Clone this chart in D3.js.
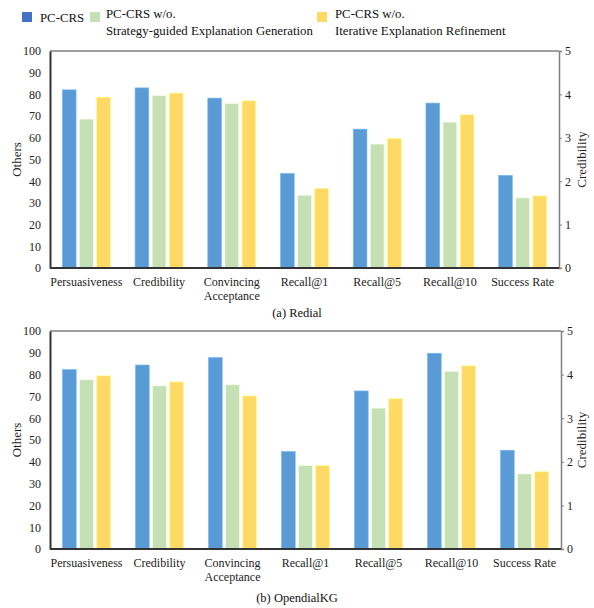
<!DOCTYPE html>
<html><head><meta charset="utf-8">
<script src="https://cdn.jsdelivr.net/npm/d3@7"></script>
<style>body{margin:0;background:#fff}svg{display:block;font-family:"Liberation Serif","Times New Roman",serif}</style>
</head><body><svg id="c" width="594" height="608"></svg>
<script>
const categories = ["Persuasiveness","Credibility","Convincing\nAcceptance","Recall@1","Recall@5","Recall@10","Success Rate"];
const seriesNames = ["PC-CRS","PC-CRS w/o.\nStrategy-guided Explanation Generation","PC-CRS w/o.\nIterative Explanation Refinement"];
// Credibility values are on the right axis (0-5); others on left axis (0-100)
const redialFull = [82.1, 4.15, 78.3, 43.6, 64.0, 76.0, 42.7];
const redialNoStrategy = [68.6, 3.97, 75.7, 33.5, 57.1, 67.2, 32.3];
const redialNoRefine = [78.7, 4.03, 77.0, 36.6, 59.7, 70.6, 33.2];
const okgFull = [82.3, 4.22, 87.8, 44.7, 72.5, 89.8, 45.3];
const okgNoStrategy = [77.6, 3.74, 75.3, 38.2, 64.6, 81.4, 34.4];
const okgNoRefine = [79.4, 3.83, 70.2, 38.2, 68.9, 84.0, 35.4];
const leftTicks = [0,10,20,30,40,50,60,70,80,90,100];
const rightTicks = [0,1,2,3,4,5];
const rightAxisCategory = "Credibility";

const colors = ["#5B9BD5","#C5E0B4","#FFD966"];
const legendColors = ["#4472C4","#C5E0B4","#FFD966"];
const svg = d3.select("#c");
const FONT = "Liberation Serif, Times New Roman, serif";

// legend
const legendItems = [{x:22,tx:40},{x:90,tx:106},{x:317,tx:335}];
legendItems.forEach((it,i)=>{
  svg.append("rect").attr("x",it.x).attr("y",12).attr("width",10).attr("height",10).attr("fill",legendColors[i]);
  const lines = seriesNames[i].split("\n");
  const t = svg.append("text").attr("font-size",12.8).attr("fill","#111").attr("font-family",FONT);
  if(lines.length===1){
    t.append("tspan").attr("x",it.tx).attr("y",22).text(lines[0]);
  } else {
    t.append("tspan").attr("x",it.tx).attr("y",17.5).text(lines[0]);
    t.append("tspan").attr("x",it.tx).attr("y",35).text(lines[1]);
  }
});

function panel(data, top, bottom, right, caption, capY, labY){
  const left = 50;
  const x = d3.scaleBand().domain(categories).range([left,right]).paddingInner(0).paddingOuter(0);
  const yL = d3.scaleLinear().domain([0,100]).range([bottom,top]);
  const yR = d3.scaleLinear().domain([0,5]).range([bottom,top]);
  const inner = d3.scaleBand().domain([0,1,2]).range([0,48]).paddingInner(0.2);
  const g = svg.append("g");
  g.append("line").attr("x1",left).attr("x2",right).attr("y1",top).attr("y2",top).attr("stroke","#7f7f7f").attr("stroke-width",1.5);
  data.forEach((vals,si)=>{
    vals.forEach((v,ci)=>{
      const cat = categories[ci];
      const ys = cat===rightAxisCategory ? yR : yL;
      const x0 = x(cat) + (x.bandwidth()-48)/2 + inner(si);
      g.append("rect").attr("x",x0).attr("y",ys(v)).attr("width",inner.bandwidth()).attr("height",bottom-ys(v))
        .attr("fill",colors[si]).attr("stroke",d3.color(colors[si]).brighter(0.5)).attr("stroke-width",0.6);
    });
  });
  const la = g.append("g").attr("transform",`translate(${left},0)`)
    .call(d3.axisLeft(yL).tickValues(leftTicks).tickFormat(d3.format("d")).tickSize(0).tickPadding(9));
  la.select(".domain").attr("stroke","#333").attr("stroke-width",2);
  la.selectAll("text").attr("font-size",12).attr("fill","#222").attr("font-family",FONT);
  const ra = g.append("g").attr("transform",`translate(${right},0)`)
    .call(d3.axisRight(yR).tickValues(rightTicks).tickFormat(d3.format("d")).tickSize(3).tickPadding(3));
  ra.select(".domain").attr("stroke","#7f7f7f").attr("stroke-width",1.5);
  ra.selectAll(".tick line").attr("stroke","#7f7f7f");
  ra.selectAll("text").attr("font-size",12).attr("fill","#222").attr("font-family",FONT);
  g.append("line").attr("x1",left).attr("x2",right).attr("y1",bottom).attr("y2",bottom).attr("stroke","#333").attr("stroke-width",2);
  categories.forEach(c=>{
    const lines = c.split("\n");
    const t = g.append("text").attr("text-anchor","middle").attr("font-size",12).attr("fill","#222").attr("font-family",FONT);
    lines.forEach((l,k)=>t.append("tspan").attr("x",x(c)+x.bandwidth()/2).attr("y",labY+k*14).text(l));
  });
  const mid = (top+bottom)/2;
  g.append("text").attr("transform",`translate(21,${mid}) rotate(-90)`).attr("text-anchor","middle").attr("font-size",13).attr("fill","#222").attr("font-family",FONT).text("Others");
  g.append("text").attr("transform",`translate(586,${mid}) rotate(-90)`).attr("text-anchor","middle").attr("font-size",13).attr("fill","#222").attr("font-family",FONT).text("Credibility");
  g.append("text").attr("x",297).attr("y",capY).attr("text-anchor","middle").attr("font-size",12.5).attr("fill","#111").attr("font-family",FONT).text(caption);
}

panel([redialFull,redialNoStrategy,redialNoRefine],51,268,559,"(a) Redial",317,286);
panel([okgFull,okgNoStrategy,okgNoRefine],331,549,561,"(b) OpendialKG",602,567);
</script></body></html>
